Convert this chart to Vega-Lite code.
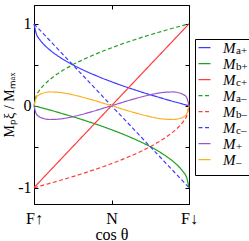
{
  "$schema": "https://vega.github.io/schema/vega-lite/v6.json",
  "width": 155,
  "height": 199,
  "autosize": {"type": "none"},
  "padding": {"left": 34, "top": 5, "right": 60, "bottom": 37},
  "background": "white",
  "config": {
    "view": {"stroke": "black", "strokeWidth": 1},
    "font": "Liberation Serif",
    "axis": {
      "domainColor": "black", "tickColor": "black", "labelColor": "black", "titleColor": "black",
      "grid": false, "labelFont": "Liberation Serif", "titleFont": "Liberation Serif",
      "labelFontSize": 16, "titleFontSize": 16, "titleFontWeight": "normal",
      "tickSize": -4, "labelFlush": false
    }
  },
  "data": {"values": [
    {"c": -1, "Ma+": 1, "Mb+": 0, "Mc+": -1, "Ma-": 0, "Mb-": -1, "Mc-": 1, "M+": 0, "M-": 0},
    {"c": -0.97, "Ma+": 0.878, "Mb+": -0.008, "Mc+": -0.97, "Ma-": 0.122, "Mb-": -0.993, "Mc-": 0.97, "M+": -0.1, "M-": 0.1},
    {"c": -0.93, "Ma+": 0.813, "Mb+": -0.018, "Mc+": -0.93, "Ma-": 0.187, "Mb-": -0.982, "Mc-": 0.93, "M+": -0.135, "M-": 0.135},
    {"c": -0.88, "Ma+": 0.755, "Mb+": -0.031, "Mc+": -0.88, "Ma-": 0.245, "Mb-": -0.97, "Mc-": 0.88, "M+": -0.155, "M-": 0.155},
    {"c": -0.8, "Ma+": 0.684, "Mb+": -0.051, "Mc+": -0.8, "Ma-": 0.316, "Mb-": -0.949, "Mc-": 0.8, "M+": -0.168, "M-": 0.168},
    {"c": -0.7, "Ma+": 0.613, "Mb+": -0.078, "Mc+": -0.7, "Ma-": 0.387, "Mb-": -0.922, "Mc-": 0.7, "M+": -0.165, "M-": 0.165},
    {"c": -0.6, "Ma+": 0.553, "Mb+": -0.106, "Mc+": -0.6, "Ma-": 0.447, "Mb-": -0.894, "Mc-": 0.6, "M+": -0.153, "M-": 0.153},
    {"c": -0.5, "Ma+": 0.5, "Mb+": -0.134, "Mc+": -0.5, "Ma-": 0.5, "Mb-": -0.866, "Mc-": 0.5, "M+": -0.134, "M-": 0.134},
    {"c": -0.4, "Ma+": 0.452, "Mb+": -0.163, "Mc+": -0.4, "Ma-": 0.548, "Mb-": -0.837, "Mc-": 0.4, "M+": -0.111, "M-": 0.111},
    {"c": -0.3, "Ma+": 0.408, "Mb+": -0.194, "Mc+": -0.3, "Ma-": 0.592, "Mb-": -0.806, "Mc-": 0.3, "M+": -0.085, "M-": 0.085},
    {"c": -0.2, "Ma+": 0.368, "Mb+": -0.225, "Mc+": -0.2, "Ma-": 0.632, "Mb-": -0.775, "Mc-": 0.2, "M+": -0.058, "M-": 0.058},
    {"c": -0.1, "Ma+": 0.329, "Mb+": -0.258, "Mc+": -0.1, "Ma-": 0.671, "Mb-": -0.742, "Mc-": 0.1, "M+": -0.029, "M-": 0.029},
    {"c": 0, "Ma+": 0.293, "Mb+": -0.293, "Mc+": 0, "Ma-": 0.707, "Mb-": -0.707, "Mc-": 0, "M+": 0, "M-": 0},
    {"c": 0.1, "Ma+": 0.258, "Mb+": -0.329, "Mc+": 0.1, "Ma-": 0.742, "Mb-": -0.671, "Mc-": -0.1, "M+": 0.029, "M-": -0.029},
    {"c": 0.2, "Ma+": 0.225, "Mb+": -0.368, "Mc+": 0.2, "Ma-": 0.775, "Mb-": -0.632, "Mc-": -0.2, "M+": 0.058, "M-": -0.058},
    {"c": 0.3, "Ma+": 0.194, "Mb+": -0.408, "Mc+": 0.3, "Ma-": 0.806, "Mb-": -0.592, "Mc-": -0.3, "M+": 0.085, "M-": -0.085},
    {"c": 0.4, "Ma+": 0.163, "Mb+": -0.452, "Mc+": 0.4, "Ma-": 0.837, "Mb-": -0.548, "Mc-": -0.4, "M+": 0.111, "M-": -0.111},
    {"c": 0.5, "Ma+": 0.134, "Mb+": -0.5, "Mc+": 0.5, "Ma-": 0.866, "Mb-": -0.5, "Mc-": -0.5, "M+": 0.134, "M-": -0.134},
    {"c": 0.6, "Ma+": 0.106, "Mb+": -0.553, "Mc+": 0.6, "Ma-": 0.894, "Mb-": -0.447, "Mc-": -0.6, "M+": 0.153, "M-": -0.153},
    {"c": 0.7, "Ma+": 0.078, "Mb+": -0.613, "Mc+": 0.7, "Ma-": 0.922, "Mb-": -0.387, "Mc-": -0.7, "M+": 0.165, "M-": -0.165},
    {"c": 0.8, "Ma+": 0.051, "Mb+": -0.684, "Mc+": 0.8, "Ma-": 0.949, "Mb-": -0.316, "Mc-": -0.8, "M+": 0.168, "M-": -0.168},
    {"c": 0.88, "Ma+": 0.031, "Mb+": -0.755, "Mc+": 0.88, "Ma-": 0.97, "Mb-": -0.245, "Mc-": -0.88, "M+": 0.155, "M-": -0.155},
    {"c": 0.93, "Ma+": 0.018, "Mb+": -0.813, "Mc+": 0.93, "Ma-": 0.982, "Mb-": -0.187, "Mc-": -0.93, "M+": 0.135, "M-": -0.135},
    {"c": 0.97, "Ma+": 0.008, "Mb+": -0.878, "Mc+": 0.97, "Ma-": 0.993, "Mb-": -0.122, "Mc-": -0.97, "M+": 0.1, "M-": -0.1},
    {"c": 1, "Ma+": 0, "Mb+": -1, "Mc+": 1, "Ma-": 1, "Mb-": 0, "Mc-": -1, "M+": 0, "M-": 0}
  ]},
  "transform": [
    {"fold": ["Ma+", "Mb+", "Mc+", "Ma-", "Mb-", "Mc-", "M+", "M-"], "as": ["series", "val"]}
  ],
  "layer": [
    {
      "mark": {"type": "line", "strokeWidth": 1.2, "interpolate": "monotone"},
      "encoding": {
        "x": {"field": "c", "type": "quantitative",
          "scale": {"domain": [-1, 1], "nice": false, "zero": false},
          "axis": {"orient": "bottom", "values": [-1, 0, 1],
            "labelExpr": "datum.value == -1 ? 'F↑' : datum.value == 0 ? 'N' : 'F↓'",
            "labelPadding": 10, "title": "cos θ", "titlePadding": 0}},
        "y": {"field": "val", "type": "quantitative",
          "scale": {"domain": [-1.2, 1.23], "nice": false, "zero": false},
          "axis": {"orient": "left", "values": [-1, -0.5, 0, 0.5, 1],
            "labelExpr": "datum.value == 1 ? '1' : datum.value == 0 ? '0' : datum.value == -1 ? '-1' : ''",
            "labelPadding": 7, "title": "Mₚξ / Mₘₐₓ", "titleFontSize": 14, "titlePadding": 1}},
        "color": {"field": "series", "type": "nominal",
          "scale": {"domain": ["Ma+", "Mb+", "Mc+", "Ma-", "Mb-", "Mc-", "M+", "M-"],
            "range": ["#3c3cff", "#22a022", "#ff3c3c", "#22a022", "#ff3c3c", "#3c3cff", "#9a55cc", "#ffb020"]},
          "legend": {"orient": "none", "legendX": 163, "legendY": 35, "title": null,
            "labelExpr": "'M'", "labelFont": "Liberation Serif", "labelFontStyle": "italic", "labelFontSize": 15,
            "labelColor": "black", "symbolType": "stroke", "symbolSize": 144, "symbolStrokeWidth": 1.2,
            "clipHeight": 15.4, "rowPadding": 0, "padding": 0, "labelOffset": 11}},
        "strokeDash": {"field": "series", "type": "nominal",
          "scale": {"domain": ["Ma+", "Mb+", "Mc+", "Ma-", "Mb-", "Mc-", "M+", "M-"],
            "range": [[1, 0], [1, 0], [1, 0], [4, 2.5], [4, 2.5], [4, 2.5], [1, 0], [1, 0]]},
          "legend": {"orient": "none", "legendX": 163, "legendY": 35, "title": null,
            "labelExpr": "'M'", "labelFont": "Liberation Serif", "labelFontStyle": "italic", "labelFontSize": 15,
            "labelColor": "black", "symbolType": "stroke", "symbolSize": 144, "symbolStrokeWidth": 1.2,
            "clipHeight": 15.4, "rowPadding": 0, "padding": 0, "labelOffset": 11}}
      }
    },
    {
      "mark": {"type": "point", "opacity": 0, "size": 1},
      "encoding": {
        "x": {"field": "c", "type": "quantitative",
          "scale": {"domain": [-1, 1], "nice": false, "zero": false},
          "axis": {"orient": "top", "values": [0], "labels": false, "title": null}},
        "y": {"field": "val", "type": "quantitative",
          "scale": {"domain": [-1.2, 1.23], "nice": false, "zero": false},
          "axis": {"orient": "right", "values": [-1, -0.5, 0, 0.5, 1], "labels": false, "title": null}},
        "shape": {"field": "series", "type": "nominal",
          "scale": {"domain": ["Ma+", "Mb+", "Mc+", "Ma-", "Mb-", "Mc-", "M+", "M-"], "range": ["circle"]},
          "legend": {"orient": "none", "legendX": 161, "legendY": 34, "title": null,
            "labelExpr": "replace(replace(datum.label, 'M', ''), '-', '–')",
            "labelFont": "Liberation Serif", "labelFontSize": 11, "labelColor": "black",
            "symbolSize": 100, "symbolOpacity": 0, "symbolStrokeWidth": 0,
            "clipHeight": 15.4, "rowPadding": 0, "padding": 4, "strokeColor": "black", "labelOffset": 26}}
      }
    }
  ],
  "resolve": {
    "axis": {"x": "independent", "y": "independent"},
    "scale": {"shape": "independent"},
    "legend": {"shape": "independent"}
  }
}
